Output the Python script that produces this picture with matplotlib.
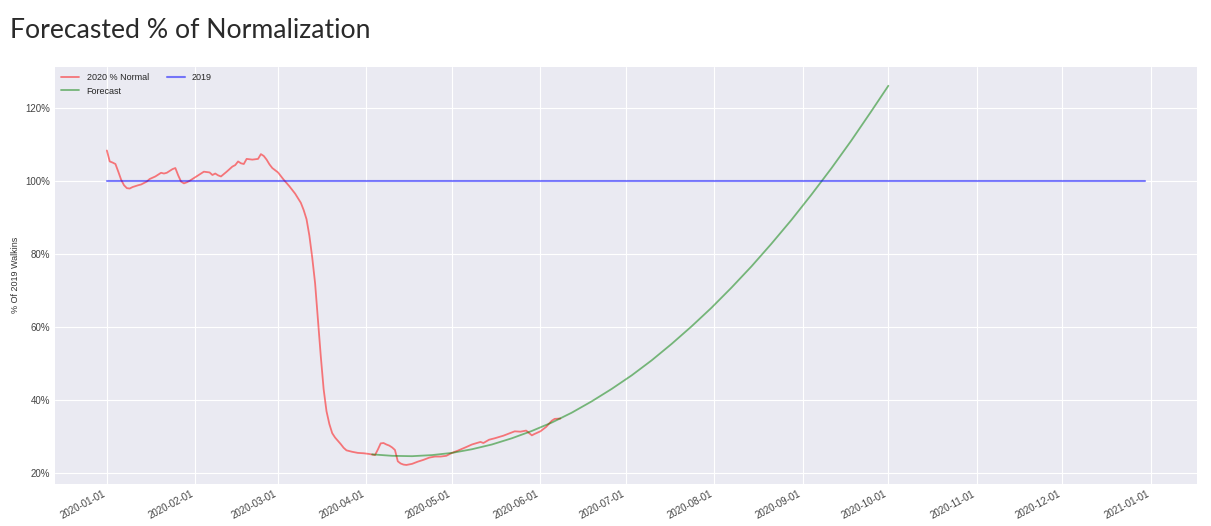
import pandas as pd
import numpy as np
from matplotlib import pyplot as plt
import matplotlib.dates as mdates
from matplotlib.ticker import FuncFormatter

# 2020 walk-ins as % of 2019
normal_dates = ['2020-01-01', '2020-01-02', '2020-01-03', '2020-01-04', '2020-01-05', '2020-01-06',
                '2020-01-07', '2020-01-08', '2020-01-09', '2020-01-10', '2020-01-12', '2020-01-13',
                '2020-01-15', '2020-01-16', '2020-01-18', '2020-01-20', '2020-01-21', '2020-01-22',
                '2020-01-24', '2020-01-25', '2020-01-26', '2020-01-27', '2020-01-28', '2020-01-29',
                '2020-01-30', '2020-02-01', '2020-02-03', '2020-02-04', '2020-02-06', '2020-02-07',
                '2020-02-08', '2020-02-09', '2020-02-10', '2020-02-12', '2020-02-14', '2020-02-15',
                '2020-02-16', '2020-02-17', '2020-02-18', '2020-02-19', '2020-02-21', '2020-02-23',
                '2020-02-24', '2020-02-25', '2020-02-26', '2020-02-27', '2020-02-28', '2020-03-01',
                '2020-03-03', '2020-03-05', '2020-03-07', '2020-03-09', '2020-03-10', '2020-03-11',
                '2020-03-12', '2020-03-13', '2020-03-14', '2020-03-15', '2020-03-16', '2020-03-17',
                '2020-03-18', '2020-03-19', '2020-03-20', '2020-03-21', '2020-03-22', '2020-03-23',
                '2020-03-24', '2020-03-25', '2020-03-27', '2020-03-29', '2020-03-31', '2020-04-02',
                '2020-04-04', '2020-04-05', '2020-04-06', '2020-04-07', '2020-04-08', '2020-04-09',
                '2020-04-10', '2020-04-11', '2020-04-12', '2020-04-13', '2020-04-14', '2020-04-15',
                '2020-04-17', '2020-04-19', '2020-04-21', '2020-04-23', '2020-04-25', '2020-04-27',
                '2020-04-29', '2020-05-01', '2020-05-03', '2020-05-06', '2020-05-08', '2020-05-11',
                '2020-05-12', '2020-05-14', '2020-05-16', '2020-05-19', '2020-05-21', '2020-05-23',
                '2020-05-25', '2020-05-27', '2020-05-29', '2020-05-30', '2020-06-01', '2020-06-03',
                '2020-06-05', '2020-06-06', '2020-06-08']
normal_values = [108.3, 105.3, 105.0, 104.6, 102.5, 100.3,
                 98.8, 98.0, 97.9, 98.3, 98.8, 99.0,
                 99.8, 100.5, 101.2, 102.2, 102.0, 102.2,
                 103.2, 103.5, 101.5, 99.8, 99.3, 99.6,
                 100.0, 101.0, 102.0, 102.5, 102.3, 101.6,
                 102.0, 101.5, 101.2, 102.5, 103.9, 104.3,
                 105.3, 104.8, 104.6, 106.0, 105.8, 106.0,
                 107.3, 106.8, 105.8, 104.5, 103.5, 102.3,
                 100.3, 98.5, 96.5, 94.0, 92.0, 89.5,
                 85.0, 79.0, 72.0, 62.0, 52.0, 43.0,
                 37.0, 33.5, 31.0, 29.8, 28.9, 28.0,
                 27.0, 26.3, 25.9, 25.6, 25.5, 25.3,
                 25.0, 26.5, 28.2, 28.3, 27.9, 27.6,
                 27.1, 26.4, 23.3, 22.7, 22.4, 22.3,
                 22.6, 23.2, 23.7, 24.3, 24.6, 24.6,
                 24.8, 25.6, 26.2, 27.2, 27.9, 28.6,
                 28.3, 29.2, 29.6, 30.3, 30.9, 31.5,
                 31.4, 31.7, 30.4, 30.8, 31.5, 32.7,
                 34.4, 34.9, 35.0]

# forecast curve, weekly readings
forecast_dates = ['2020-04-03', '2020-04-10', '2020-04-17', '2020-04-24', '2020-05-01', '2020-05-08',
                  '2020-05-15', '2020-05-22', '2020-05-29', '2020-06-05', '2020-06-12', '2020-06-19',
                  '2020-06-26', '2020-07-03', '2020-07-10', '2020-07-17', '2020-07-24', '2020-07-31',
                  '2020-08-07', '2020-08-14', '2020-08-21', '2020-08-28', '2020-09-04', '2020-09-11',
                  '2020-09-18', '2020-09-25', '2020-10-01']
forecast_values = [25.2, 24.8, 24.7, 25.0, 25.6, 26.6,
                   27.9, 29.6, 31.6, 33.9, 36.6, 39.7,
                   43.1, 46.8, 50.9, 55.4, 60.2, 65.3,
                   70.8, 76.6, 82.8, 89.3, 96.2, 103.4,
                   111.0, 119.0, 126.0]

baseline_dates = ['2020-01-01', '2020-12-30']
baseline_values = [100, 100]

plt.style.use('seaborn-v0_8-darkgrid')
fig = plt.figure(figsize=(12.11, 5.26), dpi=100)
ax = fig.add_axes([0.0454, 0.080, 0.943, 0.793])

ax.plot(pd.to_datetime(normal_dates), normal_values, color='red', alpha=0.5, lw=1.3, label='2020 % Normal')
ax.plot(pd.to_datetime(forecast_dates), forecast_values, color='green', alpha=0.5, lw=1.3, label='Forecast')
ax.plot(pd.to_datetime(baseline_dates), baseline_values, color='blue', alpha=0.5, lw=1.5, label='2019')

ax.xaxis.set_major_locator(mdates.MonthLocator())
ax.xaxis.set_major_formatter(mdates.DateFormatter('%Y-%m-%d'))
ax.yaxis.set_major_formatter(FuncFormatter(lambda v, p: f'{v:.0f}%'))
ax.set_yticks([20, 40, 60, 80, 100, 120])
plt.setp(ax.get_xticklabels(), rotation=28, ha='right', fontsize=7, color='#444444')
plt.setp(ax.get_yticklabels(), fontsize=7, color='#444444')
ax.set_ylabel('% Of 2019 Walkins', fontsize=6.5, color='#333333')

ax.legend(loc='upper left', ncol=2, fontsize=6.5, frameon=False, borderaxespad=0.3)

fig.text(0.008, 0.942, 'Forecasted % of Normalization', fontsize=19.2, family='Lato',
         color='#2a2a2a', va='center', ha='left')

plt.savefig('out.png', dpi=100)
